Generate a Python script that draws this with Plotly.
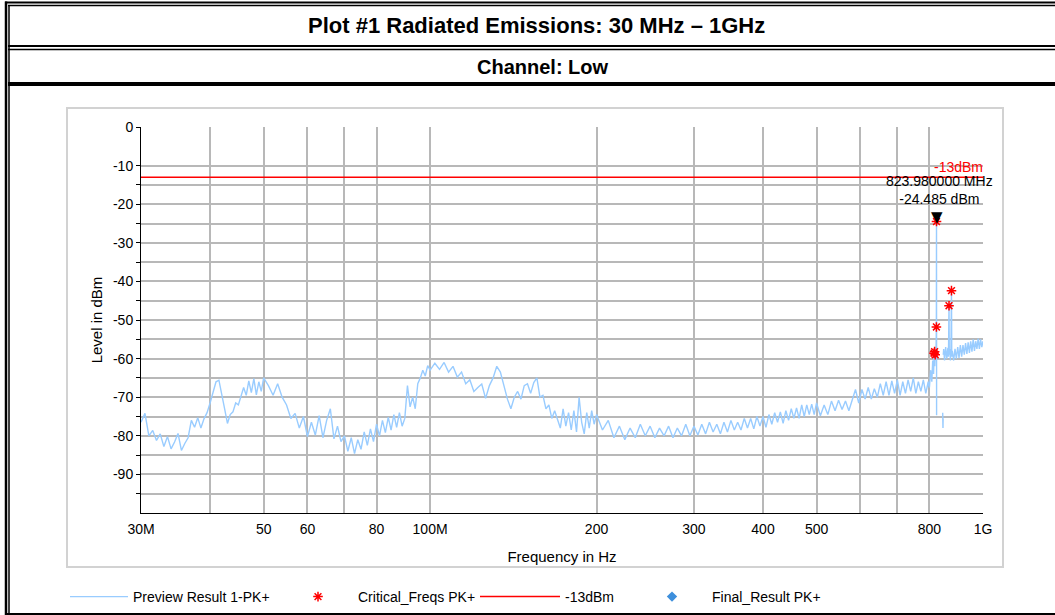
import math
import plotly.graph_objects as go

# Preview Result 1-PK+ sweep (MHz, dBm); None = gap in the trace
preview_freq_mhz = [
    30.0, 30.5, 31.0, 31.5, 32.0, 32.5, 33.0, 33.5, 34.0, 34.5,
    35.0, 35.5, 36.0, 36.5, 37.0, 37.5, 38.0, 38.5, 39.0, 39.5,
    40.0, 40.5, 41.0, 41.5, 42.0, 42.5, 43.0, 43.5, 44.0, 44.5,
    45.0, 45.5, 46.0, 46.5, 47.0, 47.5, 48.0, 48.5, 49.0, 49.5,
    50.0,
    51, 52, 53, 54, 55, 56, 57, 58, 59, 60,
    61, 62, 63, 64, 65, 66, 67, 68, 69, 70,
    71, 72, 73, 74, 75, 76, 77, 78, 79, 80,
    81, 82, 83, 84, 85, 86, 87, 88, 89, 90,
    91, 92, 93, 94, 95, 96, 97, 98, 99, 100,
    102, 104, 106, 108, 110, 112, 114, 116, 118, 120,
    122, 124, 126, 128, 130, 132, 134, 136, 138, 140,
    142, 144, 146, 148, 150, 152, 154, 156, 158, 160,
    162, 164, 166, 168, 170, 172, 174, 176, 178, 180,
    182, 184, 186, 188, 190, 192, 194, 196, 198, 200,
    205, 210, 215, 220, 225, 230, 235, 240, 245, 250,
    255, 260, 265, 270, 275, 280, 285, 290, 295, 300,
    305, 310, 315, 320, 325, 330, 335, 340, 345, 350,
    355, 360, 365, 370, 375, 380, 385, 390, 395, 400,
    405, 410, 415, 420, 425, 430, 435, 440, 445, 450,
    455, 460, 465, 470, 475, 480, 485, 490, 495, 500,
    508, 516, 524, 532, 540, 548, 556, 564, 572, 580,
    588, 596, 604, 612, 620, 628, 636, 644, 652, 660,
    668, 676, 684, 692, 700, 708, 716, 724, 732, 740,
    748, 756, 764, 772, 780, 788, 796,
    800, 804, 808, 811, 814, 816, 818, 820, 822, 823.5,
    823.98, 824.3, 824.6, 845.5, 846.5, 847.0, 847.2, 847.5, 849, 852,
    856, 860, 864, 866, 868, 869, 871, 873, 875, 877,
    878, 880, 885, 890, 895, 900, 905, 910, 915, 920,
    925, 930, 935, 940, 945, 950, 955, 960, 965, 970,
    975, 980, 985, 990, 995, 1000,
]
preview_level_dbm = [
    -76.5, -74.2, -80.0, -78.6, -81.2, -79.5, -82.8, -80.2, -83.4, -81.6,
    -79.4, -83.8, -82.0, -80.5, -76.0, -77.8, -75.3, -78.0, -75.6, -74.0,
    -71.5, -68.5, -66.0, -65.6, -69.0, -73.0, -76.8, -74.5, -73.8, -71.5,
    -72.0, -69.8, -67.5, -69.5, -65.8, -68.8, -65.2, -69.4, -66.0, -68.5,
    -65.0,
    -67.0, -69.5, -66.5, -70.0, -72.0, -75.5, -74.2, -78.0, -75.0, -80.2,
    -76.5, -79.8, -74.8, -80.5, -76.0, -73.0, -80.8, -77.5, -81.5, -80.0,
    -84.0, -80.5, -84.6, -81.0, -83.5, -79.0, -82.5, -78.2, -81.5, -77.0,
    -80.0, -76.0, -79.2, -75.2, -78.5, -74.5, -77.8, -74.0, -77.5, -75.5,
    -67.0, -72.5, -70.0, -73.0, -66.5, -65.0, -63.0, -64.5, -61.8, -63.0,
    -61.2, -62.8, -61.0, -63.5, -62.0, -64.8, -63.5, -66.5, -65.5, -68.5,
    -67.5, -66.6, -70.3, -67.0, -65.0, -62.0, -63.5, -67.0, -70.5, -73.0,
    -70.0, -68.5, -70.5, -67.0, -66.5, -69.0, -66.2, -65.0, -70.0, -69.5,
    -73.0, -72.0, -75.5, -73.5, -76.0, -78.0, -73.0, -77.5, -74.0, -78.5,
    -73.5, -79.0, -70.0, -76.5, -79.5, -74.0, -78.0, -73.5, -77.0, -74.5,
    -78.5, -76.0, -80.5, -77.5, -81.0, -78.0, -80.5, -77.0, -80.0, -77.5,
    -80.5, -78.0, -80.0, -77.5, -80.5, -78.0, -80.0, -77.0, -80.0, -77.5,
    -79.8, -77.0, -79.5, -76.5, -79.0, -77.0, -79.5, -76.5, -79.0, -76.0,
    -78.5, -76.5, -78.5, -75.5, -78.0, -75.5, -78.2, -75.0, -77.5, -75.0,
    -77.8, -74.5, -77.0, -74.0, -76.5, -73.8, -76.8, -73.5, -76.0, -73.0,
    -75.5, -72.8, -75.5, -72.0, -75.0, -72.0, -74.5, -71.8, -74.5, -71.5,
    -74.8, -72.0, -74.5, -71.0, -73.5, -70.8, -73.2, -71.0, -73.5, -70.5,
    -68.0, -71.5, -68.0, -70.5, -67.5, -70.5, -67.8, -70.0, -66.5, -69.5,
    -66.0, -69.5, -65.8, -69.0, -65.5, -69.5, -66.0, -69.0, -65.5, -68.5,
    -65.0, -69.0, -66.0, -68.5, -65.5, -69.0, -66.0,
    -67.5, -63.0, -66.0, -60.5, -64.0, -58.5, -62.0, -57.5, -60.0, -52.0,
    -24.485, -74.7, None, -74.0, -78.0, -75.5, None, -59.0, -57.5, -60.5,
    -57.0, -60.0, -57.2, -59.5, -46.3, -59.0, -57.5, -60.5, -58.0, -42.4,
    -59.5, -58.0, -60.5, -57.5, -60.0, -57.0, -59.8, -56.5, -59.5, -56.5,
    -59.0, -56.0, -58.8, -55.8, -58.5, -55.5, -58.2, -55.0, -58.0, -55.5,
    -57.5, -54.8, -57.5, -55.0, -57.0, -55.5,
]

# Critical_Freqs PK+
crit_freq_mhz = [815.5, 817.5, 819.5, 823.6, 823.98, 868.0, 877.0]
crit_level_dbm = [-58.6, -58.2, -59.0, -51.8, -24.485, -46.3, -42.4]

limit_dbm = -13
marker_freq_mhz = 823.98
marker_level_dbm = -24.485

x_tick_mhz = [30, 50, 60, 80, 100, 200, 300, 400, 500, 800, 1000]
x_tick_text = ["30M", "50", "60", "80", "100M", "200", "300", "400", "500", "800", "1G"]
x_extra_grid_mhz = [40, 70, 600, 700]
y_major = [0, -10, -20, -30, -40, -50, -60, -70, -80, -90]
y_major_text = ["0", "-10", "-20", "-30", "-40", "-50", "-60", "-70", "-80", "-90"]
y_minor = [-15, -25, -35, -45, -55, -65, -75, -85, -95]

W, H = 1055, 615
FONT = "Liberation Sans, Arial, sans-serif"
NARROW = "Liberation Sans Narrow, Arial Narrow, Liberation Sans, Arial"
GRID = "#b8b8b8"
BLUE = "#99ccff"
RED = "#ff0000"


def px(x):
    return x / W


def py(y):
    return 1 - y / H


def mhz(v):
    return [None if f is None else f * 1e6 for f in v]


fig = go.Figure()

fig.add_trace(go.Scatter(
    x=mhz(preview_freq_mhz), y=preview_level_dbm, mode="lines",
    name="Preview Result 1-PK+", line=dict(color=BLUE, width=1.4),
    connectgaps=False, legend="legend",
))
fig.add_trace(go.Scatter(
    x=mhz([30, 1000]), y=[limit_dbm, limit_dbm], mode="lines",
    name="-13dBm", line=dict(color=RED, width=1.5), legend="legend3",
))
fig.add_trace(go.Scatter(
    x=mhz(crit_freq_mhz), y=crit_level_dbm, mode="markers",
    name="Critical_Freqs PK+",
    marker=dict(symbol="asterisk-open", size=8, color=RED, line=dict(color=RED, width=1.5)),
    legend="legend2",
))
fig.add_trace(go.Scatter(
    x=[None], y=[None], mode="markers", name="Final_Result PK+",
    marker=dict(symbol="diamond", size=8, color="#3d8fdc"), legend="legend4",
))

# table frame around the plot
def hline(y, x0, x1, w):
    return dict(type="line", xref="paper", yref="paper", x0=px(x0), x1=px(x1),
                y0=py(y), y1=py(y), line=dict(color="black", width=w))


def vline(x, y0, y1, w):
    return dict(type="line", xref="paper", yref="paper", x0=px(x), x1=px(x),
                y0=py(y0), y1=py(y1), line=dict(color="black", width=w))


shapes = [
    vline(6, 1.5, 615, 2.5), vline(9, 5, 615, 1.5),
    hline(2.5, 5, 1055, 2), hline(5.5, 8, 1055, 1.3),
    hline(46, 8, 1055, 2), hline(49.5, 8, 1055, 1.5),
    hline(84, 8, 1055, 4),
    hline(614, 5, 1055, 2),
    dict(type="rect", xref="paper", yref="paper", x0=px(67), x1=px(1003),
         y0=py(567), y1=py(108), line=dict(color="#d2d2d2", width=2), layer="below"),
]

marker_x = math.log10(marker_freq_mhz * 1e6)
annotations = [
    dict(text="<b>Plot #1 Radiated Emissions: 30 MHz \u2013 1GHz</b>", x=px(536), y=py(26),
         xref="paper", yref="paper", xanchor="center", yanchor="middle", showarrow=False,
         font=dict(family=NARROW, size=22, color="black")),
    dict(text="<b>Channel: Low</b>", x=px(543), y=py(67),
         xref="paper", yref="paper", xanchor="center", yanchor="middle", showarrow=False,
         font=dict(family=NARROW, size=20, color="black")),
    dict(text="-13dBm", x=math.log10(1e9), y=limit_dbm, xref="x", yref="y",
         xanchor="right", yanchor="bottom", yshift=0, xshift=2, showarrow=False,
         font=dict(family=FONT, size=14, color=RED)),
    dict(text="\u25bc", x=marker_x, y=marker_level_dbm, xref="x", yref="y",
         yanchor="bottom", yshift=-6, showarrow=False, font=dict(family="DejaVu Sans", size=15, color="black")),
    dict(text=f"{marker_freq_mhz:.6f} MHz<br>{marker_level_dbm:.3f} dBm", x=marker_x,
         y=marker_level_dbm, xref="x", yref="y", xanchor="center", yanchor="bottom",
         xshift=3, yshift=13, showarrow=False, font=dict(family=FONT, size=14, color="black")),
]

legend_base = dict(orientation="h", yanchor="middle", y=py(597), xanchor="left",
                   bgcolor="rgba(0,0,0,0)", font=dict(family=FONT, size=14, color="black"))

fig.update_layout(
    width=W, height=H, margin=dict(l=0, r=0, t=0, b=0, autoexpand=False),
    paper_bgcolor="white", plot_bgcolor="white",
    font=dict(family=FONT, size=14, color="black"),
    showlegend=True,
    legend=dict(legend_base, x=px(65), itemwidth=58),
    legend2=dict(legend_base, x=px(278), itemwidth=70),
    legend3=dict(legend_base, x=px(475), itemwidth=80),
    legend4=dict(legend_base, x=px(632), itemwidth=70),
    shapes=shapes,
    annotations=annotations,
    xaxis=dict(
        type="log", domain=[px(141), px(983)],
        range=[math.log10(30e6), math.log10(1e9)],
        tickvals=mhz(x_tick_mhz), ticktext=x_tick_text,
        showgrid=True, gridcolor=GRID, gridwidth=1.5,
        minor=dict(tickvals=mhz(x_extra_grid_mhz), showgrid=True, gridcolor=GRID, gridwidth=1.5),
        showline=True, linecolor="black", linewidth=1, zeroline=False,
        ticks="", ticklabelstandoff=3,
        tickfont=dict(size=14, color="black"),
        title=dict(text="Frequency in Hz", font=dict(size=15, color="black"), standoff=15),
    ),
    yaxis=dict(
        domain=[py(513), py(127)], range=[-100, 0],
        tickvals=y_major, ticktext=y_major_text,
        showgrid=True, gridcolor=GRID, gridwidth=1.5,
        minor=dict(tickvals=y_minor, showgrid=True, gridcolor=GRID, gridwidth=1.5,
                   ticks="outside", ticklen=4, tickcolor="black"),
        showline=True, linecolor="black", linewidth=1, zeroline=False,
        ticks="outside", ticklen=4, tickcolor="black", ticklabelstandoff=0,
        tickfont=dict(size=14, color="black"),
        title=dict(text="Level in dBm", font=dict(size=15, color="black"), standoff=6),
    ),
)

# the page's default body margin would shift the whole figure by 8px
fig.write_html("out.html", config={"displayModeBar": False},
               post_script="document.body.style.margin = '0';")
